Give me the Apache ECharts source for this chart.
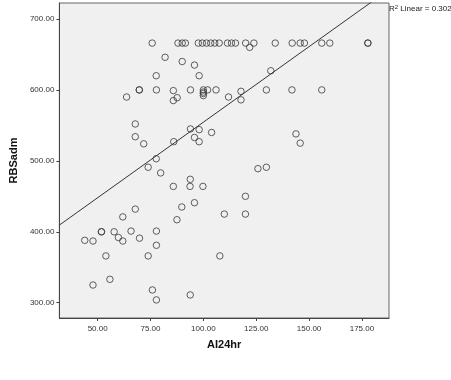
<!DOCTYPE html>
<html>
<head>
<meta charset="utf-8">
<script src="https://cdn.jsdelivr.net/npm/echarts@6/dist/echarts.min.js"></script>
<style>
  html, body { margin: 0; padding: 0; background: #fff; }
  #main { width: 451px; height: 380px; }
</style>
</head>
<body>
<div id="main"></div>
<script>
// AI24hr vs RBSadm scatter
var ai24hr = [
    75.8, 88.0, 90.0, 91.5, 97.6, 99.5, 101.5, 103.5, 105.4, 107.5, 111.4, 113.3, 115.2, 120.0, 123.9,
    134.0, 142.0, 145.8, 147.8, 156.0, 159.8, 177.8, 177.8, 121.9,
    81.9, 77.7, 69.7, 69.7, 77.8, 85.8, 63.7, 85.8, 87.6, 67.8, 67.8, 71.8, 86.0, 77.7, 73.9, 79.8, 93.8,
    90.0, 95.8, 98.0, 93.9, 100.0, 100.0, 100.0, 100.0, 102.0, 106.0, 111.9, 117.8, 117.8, 131.9, 129.8,
    141.9, 156.0, 143.8, 145.8, 93.9, 98.0, 95.8, 98.0, 103.9, 125.8, 129.8,
    85.8, 87.5, 67.8, 61.9, 51.8, 51.8, 57.8, 65.8, 77.8, 43.9, 47.8, 59.8, 61.9, 69.8, 77.8, 53.9, 73.9,
    47.8, 55.8, 75.9, 77.8, 93.7, 99.8, 89.8, 95.8, 119.9, 109.9, 119.9, 107.8, 93.8
];
var rbsadm = [
    666, 666, 666, 666, 666, 666, 666, 666, 666, 666, 666, 666, 666, 666, 666,
    666, 666, 666, 666, 666, 666, 666, 666, 660,
    646, 620, 600, 600, 600, 599, 590, 585, 589, 552, 534, 524, 527, 503, 491, 483, 474,
    640, 635, 620, 600, 600, 597, 595, 592, 600, 600, 590, 598, 586, 627, 600,
    600, 600, 538, 525, 545, 544, 533, 527, 540, 489, 491,
    464, 417, 432, 421, 400, 400, 400, 401, 401, 388, 387, 392, 387, 391, 381, 366, 366,
    325, 333, 318, 304, 464, 464, 435, 441, 450, 425, 425, 366, 311
];
var xTicks = [50, 75, 100, 125, 150, 175];
var yTicks = [300, 400, 500, 600, 700];

// linear fit (R2 = 0.302)
var fitIntercept = 341.5;
var fitSlope = 2.13;
var xMin = 31.9, xMax = 187.8;
var yMin = 278.5, yMax = 722.5;

var points = ai24hr.map(function (x, i) { return [x, rbsadm[i]]; });
var fitLine = [xMin, xMax].map(function (x) { return [x, fitIntercept + fitSlope * x]; });

var myChart = echarts.init(document.getElementById('main'));
var option = {
    animation: false,
    backgroundColor: '#fff',
    title: {
        left: 389,
        top: 4,
        padding: 0,
        text: '{a|R}{sup|2}{a| Linear = 0.302}',
        textStyle: {
            fontWeight: 'normal',
            rich: {
                a: { fontSize: 8, fontWeight: 'normal', fontFamily: 'Liberation Sans', color: '#222' },
                sup: { fontSize: 6, fontWeight: 'normal', fontFamily: 'Liberation Sans', color: '#222', verticalAlign: 'top', padding: [0, 0, 3, 0] }
            }
        }
    },
    grid: {
        left: 57,
        right: 62,
        top: 3,
        bottom: 62,
        show: true,
        backgroundColor: '#f0f0f0',
        borderColor: '#666',
        borderWidth: 1
    },
    xAxis: {
        type: 'value',
        min: xMin,
        max: xMax,
        name: 'AI24hr',
        nameLocation: 'middle',
        nameGap: 21,
        nameTextStyle: { fontSize: 11, fontWeight: 'bold', fontFamily: 'Liberation Sans', color: '#111' },
        axisLine: { show: true, lineStyle: { color: '#444' } },
        axisTick: { show: true, inside: false, length: 3, customValues: xTicks, lineStyle: { color: '#444' } },
        axisLabel: {
            customValues: xTicks,
            margin: 7,
            fontSize: 8,
            fontFamily: 'Liberation Sans',
            color: '#333',
            formatter: function (v) { return v.toFixed(2); }
        },
        splitLine: { show: false }
    },
    yAxis: {
        type: 'value',
        min: yMin,
        max: yMax,
        name: 'RBSadm',
        nameLocation: 'middle',
        nameGap: 34,
        nameTextStyle: { fontSize: 11, fontWeight: 'bold', fontFamily: 'Liberation Sans', color: '#111' },
        axisLine: { show: true, lineStyle: { color: '#444' } },
        axisTick: { show: true, inside: false, length: 3, customValues: yTicks, lineStyle: { color: '#444' } },
        axisLabel: {
            customValues: yTicks,
            margin: 5,
            fontSize: 8,
            fontFamily: 'Liberation Sans',
            color: '#333',
            formatter: function (v) { return v.toFixed(2); }
        },
        splitLine: { show: false }
    },
    series: [
        {
            type: 'scatter',
            data: points,
            symbol: 'circle',
            symbolSize: 6.5,
            itemStyle: {
                color: 'rgba(0,0,0,0)',
                borderColor: '#3a3a3a',
                borderWidth: 1
            }
        },
        {
            type: 'line',
            data: fitLine,
            clip: true,
            symbol: 'none',
            lineStyle: { color: '#333', width: 1 }
        }
    ]
};

option && myChart.setOption(option);
</script>
</body>
</html>
